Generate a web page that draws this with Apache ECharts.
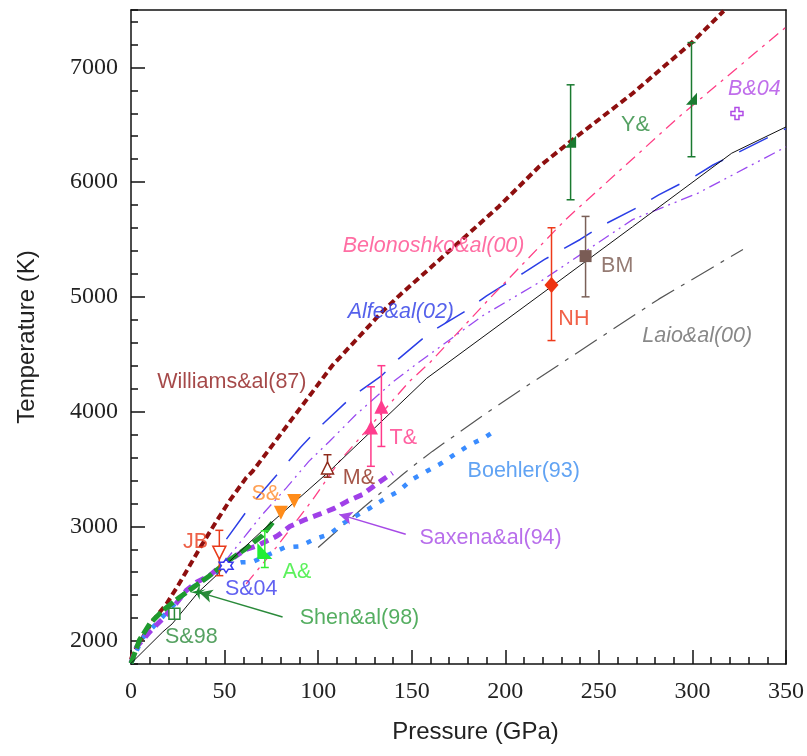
<!DOCTYPE html>
<html><head><meta charset="utf-8">
<script src="https://cdn.jsdelivr.net/npm/echarts@6/dist/echarts.min.js"></script>
<style>html,body{margin:0;padding:0;background:#fff}#c{width:807px;height:756px}</style>
</head><body><div id="c"></div>
<script>
// ---- axis ticks ----
const yMajorTicks = [2000, 3000, 4000, 5000, 6000, 7000];

// ---- curves [pressure GPa, temperature K] ----
const blackCurve = [[0,1805],[17,2080],[22,2150],[36,2426],[45.5,2570],[51,2670],[70,2960],[106,3480],[158,4290],[225,5093],[268,5611],[321,6252],[350,6481]];
const williams = [[0,1840],[1,1890],[12,2185],[19,2325],[25,2480],[32,2675],[37,2816],[45.5,3040],[53,3230],[61.5,3422],[65,3480],[75.7,3710],[86.3,3941],[97,4172],[107.5,4400],[134,4866],[143,5006],[161,5268],[196.6,5788],[218,6134],[235.6,6364],[267.8,6770],[299.7,7216],[316.7,7491]];
const alfe = [[51,2888],[65,3205],[75,3393],[91,3696],[101,3869],[118,4129],[134,4314],[143,4460],[160,4692],[179,4879],[190,5009],[210,5211],[221,5326],[240,5500],[251,5615],[270,5774],[282,5889],[301,6048],[311,6149],[350,6467]];
const belonoshko = [[61.5,2498],[77.5,2815],[97,3230],[111,3560],[148.6,4260],[160,4432],[191.3,4980],[232.2,5673],[292.7,6567],[349.6,7346]];
const violetCurve = [[50,2690],[70,3100],[83,3335],[95,3566],[106,3739],[120,3970],[140,4259],[154,4432],[188,4836],[218,5125],[268,5673],[303,5904],[350,6307]];
const laio = [[100,2816],[124,3162],[145,3450],[154,3566],[161,3653],[191,3999],[213,4240],[282,4980],[327,5413]];
const boehler = [[0,1805],[6,2022],[16,2195],[30,2440],[35.6,2498],[50,2650],[59,2686],[65,2690],[82,2815],[90,2825],[98,2888],[106,2931],[114,3032],[128,3162],[135,3235],[143,3306],[150,3407],[158,3480],[166,3551],[174,3638],[181,3710],[189,3773],[196,3848]];
const saxena = [[0,1810],[3,1950],[10,2080],[17,2195],[24,2325],[29.5,2440],[35,2512],[42,2570],[47,2642],[61,2795],[68,2835],[78,2915],[85,3000],[93.5,3061],[101.5,3110],[108.6,3156],[115.7,3220],[123.7,3277],[130.8,3364],[139.7,3465]];
const shen = [[0,1805],[4.5,2008],[10,2150],[17,2267],[26,2382],[31,2440],[42,2570],[52,2700],[61,2801],[70,2917],[76,3040]];

// ---- data points [P, T, Tlow, Thigh] ----
const jbPts = [[47.2,2770,2570,2965]];
const aPts = [[71.5,2785,2641,2960]];
const mPts = [[105,3508,3428,3624]];
const tPts = [[128.2,3862,3523,4216],[133.8,4042,3696,4400]];
const nhPts = [[224.7,5104,4619,5602]];
const bmPts = [[242.9,5355,5000,5701]];
const yPts = [[234.9,6351,5846,6848],[299.5,6726,6221,7216]];
const sPts = [[80.1,3118],[87.2,3220]];
const s98Pts = [[23.2,2238]];
const s04Pts = [[50.8,2657]];
const shenPt = [[35.9,2426]];
const b04Pts = [[323.8,6597]];

// ---- arrows [from, to] ----
const saxenaArrow = [[146.8,2931],[111.3,3104]];
const shenArrow = [[81,2210],[36.5,2424]];

// ---- annotations [text, P, T] ----
const annotations = [
  ['Williams&al(87)', 13.7, 4253],
  ['Belonoshko&al(00)', 112.9, 5439],
  ['Alfe&al(02)', 115.5, 4867],
  ['Laio&al(00)', 272.9, 4660],
  ['B&04', 318.8, 6807],
  ['Y&', 261.6, 6495],
  ['BM', 250.9, 5266],
  ['NH', 228.1, 4806],
  ['T&', 137.9, 3768],
  ['M&', 112.9, 3422],
  ['S&', 64.1, 3284],
  ['Boehler(93)', 179.6, 3482],
  ['Saxena&al(94)', 153.9, 2894],
  ['JB', 27.5, 2859],
  ['A&', 80.8, 2600],
  ['S&04', 49.9, 2453],
  ['Shen&al(98)', 89.9, 2201],
  ['S&98', 17.9, 2036]
];
const annStyle = {
  'Williams&al(87)': ['#8e1a1a', 'normal'],
  'Belonoshko&al(00)': ['#ff4a8c', 'italic'],
  'Alfe&al(02)': ['#2a3ae6', 'italic'],
  'Laio&al(00)': ['#6a6a6a', 'italic'],
  'B&04': ['#b04ae6', 'italic'],
  'Y&': ['#2a8a3c', 'normal'],
  'BM': ['#7a5a50', 'normal'],
  'NH': ['#ee3a1a', 'normal'],
  'T&': ['#ff3a8a', 'normal'],
  'M&': ['#8e2a1a', 'normal'],
  'S&': ['#ff8a2a', 'normal'],
  'Boehler(93)': ['#3a8cf0', 'normal'],
  'Saxena&al(94)': ['#a64ae6', 'normal'],
  'JB': ['#e83a1a', 'normal'],
  'A&': ['#33ee33', 'normal'],
  'S&04': ['#3a3aee', 'normal'],
  'Shen&al(98)': ['#2a9a3a', 'normal'],
  'S&98': ['#2a8a3a', 'normal']
};

function curve(name, data, color, width, dash, z) {
  return {name: name, type: 'line', data: data, showSymbol: false, symbol: 'none', silent: true, z: z || 3,
    lineStyle: {color: color, width: width, type: dash, cap: 'butt'}, clip: true};
}
function errBars(data, color) {
  return {type: 'custom', data: data, z: 6, silent: true, encode: {x: 0, y: 1},
    renderItem: function (params, api) {
      const x = api.value(0), lo = api.value(2), hi = api.value(3);
      const p1 = api.coord([x, lo]), p2 = api.coord([x, hi]);
      const w = 4, st = {stroke: color, lineWidth: 1.5};
      return {type: 'group', children: [
        {type: 'line', shape: {x1: p1[0], y1: p1[1], x2: p2[0], y2: p2[1]}, style: st},
        {type: 'line', shape: {x1: p1[0] - w, y1: p1[1], x2: p1[0] + w, y2: p1[1]}, style: st},
        {type: 'line', shape: {x1: p2[0] - w, y1: p2[1], x2: p2[0] + w, y2: p2[1]}, style: st}
      ]};
    }};
}
function marks(data, symbol, size, fill, stroke, rotate) {
  return {type: 'scatter', data: data.map(d => [d[0], d[1]]), symbol: symbol, symbolSize: size,
    symbolRotate: rotate || 0, z: 7, silent: true,
    itemStyle: {color: fill, borderColor: stroke || fill, borderWidth: stroke ? 1.5 : 0, opacity: 1}};
}
function arrow(pts, color) {
  return {type: 'line', data: [], silent: true, z: 6,
    markLine: {silent: true, symbol: ['none', 'arrow'], symbolSize: [10, 13], animation: false,
      label: {show: false}, lineStyle: {color: color, width: 1.5, type: 'solid'},
      data: [[{coord: pts[0]}, {coord: pts[1]}]]}};
}

const chart = echarts.init(document.getElementById('c'), null, {renderer: 'canvas'});
const tickFont = {fontFamily: 'Liberation Serif', fontSize: 24, color: '#222'};
const axLine = {show: true, lineStyle: {color: '#111', width: 1.5}};
const option = {
  animation: false,
  backgroundColor: '#fff',
  grid: {left: 131, top: 10, right: 20, bottom: 92},
  xAxis: [{
    type: 'value', min: 0, max: 350, interval: 50, position: 'bottom',
    axisLine: axLine,
    axisTick: {show: true, inside: true, length: 14, lineStyle: {color: '#111', width: 1.5}},
    minorTick: {show: true, splitNumber: 5, length: 7, lineStyle: {color: '#111', width: 1.5}},
    axisLabel: Object.assign({margin: 16, formatter: function (v) { return String(v); }}, tickFont),
    splitLine: {show: false}, minorSplitLine: {show: false},
    name: 'Pressure (GPa)', nameLocation: 'middle', nameGap: 56,
    nameTextStyle: {fontFamily: 'Liberation Sans', fontSize: 24, color: '#222', padding: [0, 0, 0, 34]}
  }, {
    type: 'value', min: 0, max: 350, position: 'top',
    axisLine: axLine, axisTick: {show: false}, axisLabel: {show: false}, splitLine: {show: false}
  }],
  yAxis: [{
    type: 'value', min: 1800, max: 7500, interval: 200, position: 'left',
    axisLine: axLine,
    axisTick: {show: true, inside: true, length: 7, lineStyle: {color: '#111', width: 1.5}},
    axisLabel: Object.assign({margin: 13, formatter: function (v) { return v % 1000 === 0 ? String(v) : ''; }}, tickFont),
    splitLine: {show: false},
    name: 'Temperature (K)', nameLocation: 'middle', nameGap: 92,
    nameTextStyle: {fontFamily: 'Liberation Sans', fontSize: 24, color: '#222'}
  }, {
    type: 'value', min: 1800, max: 7500, position: 'left',
    axisLine: {show: false},
    axisTick: {show: true, inside: true, length: 14, customValues: yMajorTicks, lineStyle: {color: '#111', width: 1.5}},
    axisLabel: {show: false}, splitLine: {show: false}
  }, {
    type: 'value', min: 1800, max: 7500, position: 'right',
    axisLine: axLine, axisTick: {show: false}, axisLabel: {show: false}, splitLine: {show: false}
  }],
  series: [
    curve('black', blackCurve, '#111', 1, 'solid', 4),
    curve('Williams', williams, '#8e0f0f', 4, [7, 4], 3),
    curve('Alfe', alfe, '#2b3ee6', 1.5, [32, 18], 3),
    curve('Belonoshko', belonoshko, '#ff3f86', 1.3, [12, 6, 3, 6], 3),
    curve('violet', violetCurve, '#9a4af0', 1.3, [12, 5, 2, 5, 2, 5], 3),
    curve('Laio', laio, '#555', 1.2, [26, 8, 4, 8], 3),
    curve('Boehler', boehler, '#3a8cff', 4.5, [5, 9], 3),
    curve('Saxena', saxena, '#a040e8', 5, [9, 6], 3),
    curve('Shen', shen, '#1e9a2e', 5, [12, 4], 3),
    arrow(saxenaArrow, '#a64ae6'),
    arrow(shenArrow, '#2a8a3a'),
    errBars(jbPts, '#e83a1a'),
    errBars(aPts, '#33ee33'),
    errBars(mPts, '#8e2a1a'),
    errBars(tPts, '#ff3a8a'),
    errBars(nhPts, '#ee3a1a'),
    errBars(bmPts, '#7a6058'),
    errBars(yPts, '#1a7a30'),
    marks(jbPts, 'triangle', 13, '#fff', '#e83a1a', 180),
    marks(aPts, 'path://M0,0 L0,10 L10,10 Z', [15, 16], '#22ee33', null),
    marks(mPts, 'triangle', 12, '#fff', '#8e2a1a', 0),
    marks(tPts, 'triangle', 14, '#ff3d8e', null, 0),
    marks(nhPts, 'diamond', [14, 16], '#ee3311', null),
    marks(bmPts, 'rect', 12, '#7a5c55', null),
    marks(yPts, 'path://M10,0 L10,10 L0,10 Z', [11, 12], '#1a7a30', null),
    marks(sPts, 'triangle', 14, '#ff8c1a', null, 180),
    marks(s98Pts, 'path://M0,0 H10 V10 H0 Z M5,0 V10', 11, '#fff', '#2a8a3a'),
    marks(s04Pts, 'path://M5,0 L6.4,2.5 L9.3,2.5 L7.9,5 L9.3,7.5 L6.4,7.5 L5,10 L3.6,7.5 L0.7,7.5 L2.1,5 L0.7,2.5 L3.6,2.5 Z', 14, '#fff', '#3a3aee'),
    marks(shenPt, 'path://M0,5 L4,4 L6,0 L6,4 L10,3 L7,5 L10,7 L6,6 L6,10 L4,6 Z', 15, '#1a8a30', null),
    marks(b04Pts, 'path://M4,0 H8 V4 H12 V8 H8 V12 H4 V8 H0 V4 H4 Z', 12, '#fff', '#b04ae6'),
    {
      type: 'scatter', z: 9, silent: true, symbolSize: 1, itemStyle: {color: 'rgba(0,0,0,0)'},
      data: annotations.map(a => ({
        value: [a[1], a[2]],
        label: {show: true, position: 'right', distance: 0, formatter: a[0],
          color: annStyle[a[0]][0], fontStyle: annStyle[a[0]][1],
          fontFamily: 'Liberation Sans', fontSize: 21.5}
      }))
    }
  ]
};
chart.setOption(option);
</script></body></html>
